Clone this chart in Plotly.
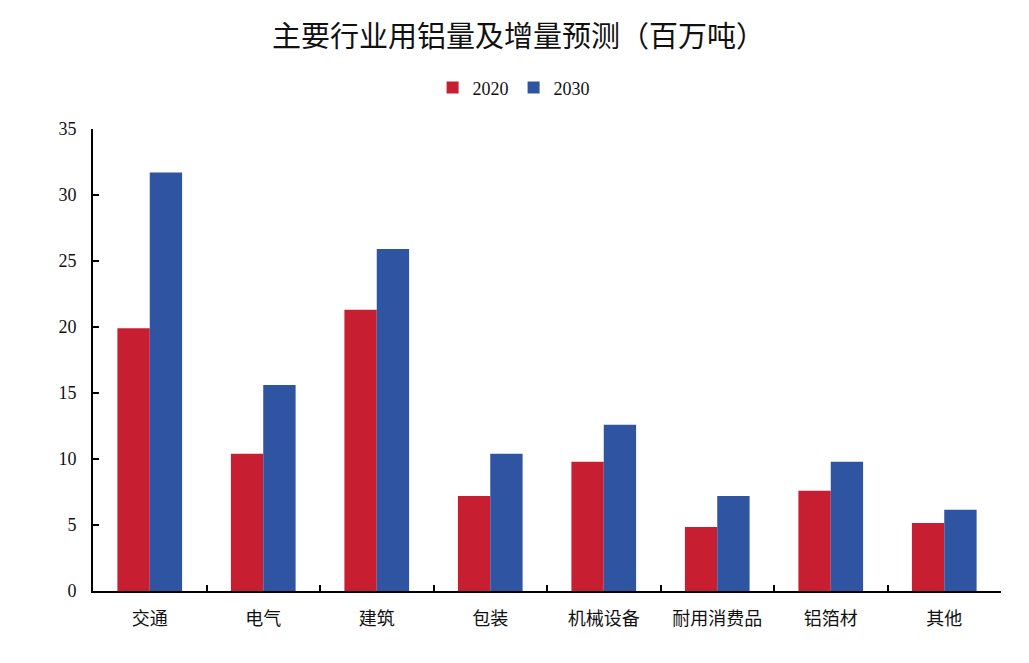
import plotly.graph_objects as go

categories = ["交通", "电气", "建筑", "包装", "机械设备", "耐用消费品", "铝箔材", "其他"]
values_2020 = [19.9, 10.4, 21.3, 7.2, 9.8, 4.85, 7.6, 5.15]
values_2030 = [31.7, 15.6, 25.9, 10.4, 12.6, 7.2, 9.8, 6.15]
y_ticks = [0, 5, 10, 15, 20, 25, 30, 35]

RED = "#C81E31"
BLUE = "#2E54A2"
FONT = "Liberation Serif, Noto Sans CJK SC, serif"

fig = go.Figure()
fig.add_trace(go.Bar(name="2020", x=categories, y=values_2020, marker=dict(color=RED, line=dict(width=0))))
fig.add_trace(go.Bar(name="2030", x=categories, y=values_2030, marker=dict(color=BLUE, line=dict(width=0))))

fig.update_layout(
    width=1021, height=655,
    paper_bgcolor="white", plot_bgcolor="white",
    barmode="group", bargap=0.43, bargroupgap=0,
    margin=dict(l=85, r=28, t=121, b=72),
    font=dict(family=FONT, size=18, color="#111111"),
    title=dict(text="主要行业用铝量及增量预测（百万吨）", x=0.5, xanchor="center",
               y=0.956, yanchor="middle", font=dict(family="Noto Sans CJK SC", size=29, color="#111111")),
    legend=dict(orientation="h", x=0.374, xanchor="left", y=1.089, yanchor="middle",
                font=dict(family=FONT, size=18), itemwidth=30, traceorder="normal"),
    showlegend=True,
)
fig.update_xaxes(
    showline=True, linecolor="black", linewidth=2,
    ticks="inside", tickcolor="black", ticklen=6, tickwidth=2,
    tickson="boundaries", showgrid=False, ticklabelstandoff=10,
    tickfont=dict(family="Noto Sans CJK SC", size=18),
)
fig.update_yaxes(
    range=[0, 35], tickvals=y_ticks, showline=True, linecolor="black", linewidth=2,
    ticks="inside", tickcolor="black", ticklen=6, tickwidth=2,
    showgrid=False, zeroline=False, ticklabelstandoff=11,
    tickfont=dict(family=FONT, size=18),
)

fig.write_html("out.html")
